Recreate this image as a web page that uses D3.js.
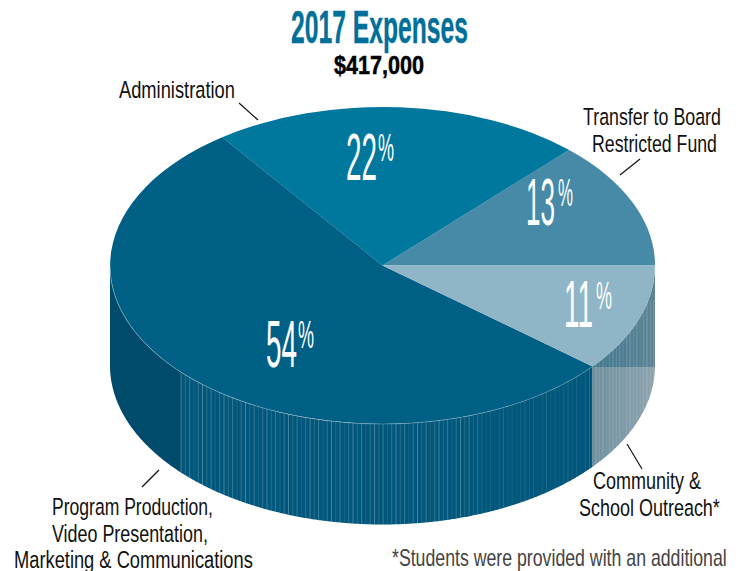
<!DOCTYPE html>
<html>
<head>
<meta charset="utf-8">
<script src="https://cdn.jsdelivr.net/npm/d3@7"></script>
<style>
  html, body { margin: 0; background: #fff; overflow: hidden; }
  text { font-family: "Liberation Sans Narrow", "Liberation Sans", sans-serif; }
</style>
</head>
<body>
<div id="chart"></div>
<script>
// data, in drawing order: counter clockwise from 3 o'clock
var categories = ["Transfer to Board Restricted Fund", "Administration", "Program Production", "Community & School Outreach"];
var percents = [13, 22, 54, 11];
var sliceColors = ["#468aa8", "#00779c", "#005f85", "#8fb5c6"];

var svgWidth = 739;
var svgHeight = 571;
var cx = 382.5, cy = 265.5, rx = 272.5, ry = 158.5;
var depth = 100;

var svg = d3.select("#chart").append("svg")
  .attr("width", svgWidth)
  .attr("height", svgHeight);

// helper: squeeze text to the x span it has in the picture
function fitText(x0, x1, baseline, str, size, opts) {
  opts = opts || {};
  var t = svg.append("text")
    .attr("font-size", size)
    .attr("font-weight", opts.weight || "normal")
    .attr("fill", opts.fill || "#111")
    .text(str);
  if (opts.stroke) {
    t.attr("stroke", opts.fill || "#111").attr("stroke-width", opts.stroke);
  }
  var k = (x1 - x0) / t.node().getComputedTextLength();
  t.attr("transform", "translate(" + x0 + "," + baseline + ") scale(" + k + ",1)");
  return t;
}

// ---- side wall ----
var defs = svg.append("defs");
var wallArea = d3.area()
  .x(function(a) { return cx + rx * Math.cos(a); })
  .y0(function(a) { return cy + ry * Math.sin(a); })
  .y1(function(a) { return cy + depth + 159 * Math.sin(a); });

defs.append("clipPath").attr("id", "wallClip")
  .append("path")
  .attr("d", wallArea(d3.range(0, Math.PI + 0.005, 0.005)));

var lightGrad = defs.append("linearGradient").attr("id", "lightWall");
lightGrad.append("stop").attr("offset", "0%").attr("stop-color", "#6f909f");
lightGrad.append("stop").attr("offset", "100%").attr("stop-color", "#8ea5af");
var darkGrad = defs.append("linearGradient").attr("id", "darkWall");
darkGrad.append("stop").attr("offset", "0%").attr("stop-color", "#3f7890");
darkGrad.append("stop").attr("offset", "100%").attr("stop-color", "#5f8496");

var wall = svg.append("g").attr("clip-path", "url(#wallClip)");
var wallTop = 265, wallH = 280;
wall.append("rect").attr("x", cx - rx - 2).attr("y", wallTop).attr("width", 74).attr("height", wallH).attr("fill", "#004a6b");
wall.append("rect").attr("x", 181).attr("y", wallTop).attr("width", 412).attr("height", wallH).attr("fill", "#00577b");
wall.append("rect").attr("x", 592).attr("y", wallTop).attr("width", 65).attr("height", 102).attr("fill", "url(#darkWall)");
wall.append("rect").attr("x", 592).attr("y", 367).attr("width", 65).attr("height", 170).attr("fill", "url(#lightWall)");

// fine vertical streaks on the wall
var streakOpacity = [0.45, 0.25, 0.38, 0.16, 0.33];
var streakX = d3.range(181, 590, 4.3);
wall.selectAll("line.streak").data(streakX).enter().append("line")
  .attr("class", "streak")
  .attr("x1", function(d) { return d; })
  .attr("x2", function(d) { return d; })
  .attr("y1", 300)
  .attr("y2", 530)
  .attr("stroke", "#b9d2dc")
  .attr("stroke-width", 0.8)
  .attr("stroke-opacity", function(d, i) {
    return streakOpacity[i % 5] * (d > 480 ? 0.45 : 1);
  });

var lightStreakX = d3.range(596, 654, 3.4);
wall.selectAll("line.lstreak").data(lightStreakX).enter().append("line")
  .attr("class", "lstreak")
  .attr("x1", function(d) { return d; })
  .attr("x2", function(d) { return d; })
  .attr("y1", 300)
  .attr("y2", 530)
  .attr("stroke", "#c3d3da")
  .attr("stroke-width", 0.9)
  .attr("stroke-opacity", function(d, i) { return streakOpacity[i % 5] * 0.8; });

// ---- top of the pie ----
var pie = d3.pie().sort(null)
  .startAngle(Math.PI / 2)
  .endAngle(Math.PI / 2 - 2 * Math.PI);
var arc = d3.arc().innerRadius(0).outerRadius(1);

svg.append("g")
  .attr("transform", "translate(" + cx + "," + cy + ") scale(" + rx + "," + ry + ")")
  .selectAll("path")
  .data(pie(percents))
  .enter().append("path")
  .attr("d", arc)
  .attr("fill", function(d, i) { return sliceColors[i]; });

// pale rim along the front edge
var rimLine = d3.line()
  .x(function(a) { return cx + rx * Math.cos(a); })
  .y(function(a) { return cy + ry * Math.sin(a); });
svg.append("path")
  .attr("d", rimLine(d3.range(0.69, Math.PI, 0.005)))
  .attr("fill", "none")
  .attr("stroke", "#9fc3d2")
  .attr("stroke-width", 0.7)
  .attr("stroke-opacity", 0.5);

// ---- percent labels ----
var pctLayout = [
  { x0: 526, x1: 555, base: 225, px0: 558, px1: 573, pbase: 206 },
  { x0: 346, x1: 377, base: 180, px0: 378, px1: 394, pbase: 161 },
  { x0: 266, x1: 297, base: 367, px0: 298, px1: 314, pbase: 348 },
  { x0: 564, x1: 593, base: 327, px0: 596, px1: 612, pbase: 309 }
];
percents.forEach(function(p, i) {
  var l = pctLayout[i];
  fitText(l.x0, l.x1, l.base, String(p), 66, { fill: "#fff" });
  fitText(l.px0, l.px1, l.pbase, "%", 38, { fill: "#fff" });
});

// ---- titles and labels ----
fitText(291, 468, 43, "2017 Expenses", 47, { fill: "#00709a", weight: "bold", stroke: 0.4 });
fitText(334, 424, 74, "$417,000", 26, { fill: "#000", weight: "bold", stroke: 0.5 });

var labelSize = 23.5;
fitText(119, 235, 98, "Administration", labelSize);
fitText(583, 721, 125, "Transfer to Board", labelSize);
fitText(592, 717, 152, "Restricted Fund", labelSize);
fitText(593, 701, 489, "Community &", labelSize);
fitText(579, 720, 516, "School Outreach*", labelSize);
fitText(52, 213, 515, "Program Production,", labelSize);
fitText(52, 208, 542, "Video Presentation,", labelSize);
fitText(14, 253, 568, "Marketing & Communications", labelSize);
fitText(392, 727, 566, "*Students were provided with an additional", 23, { fill: "#444" });

// leader lines
var leaders = [
  [239, 103, 258, 120],
  [640, 159, 620, 175],
  [627, 444, 642, 469],
  [159, 470, 142, 487]
];
svg.selectAll("line.leader").data(leaders).enter().append("line")
  .attr("class", "leader")
  .attr("x1", function(d) { return d[0]; })
  .attr("y1", function(d) { return d[1]; })
  .attr("x2", function(d) { return d[2]; })
  .attr("y2", function(d) { return d[3]; })
  .attr("stroke", "#111")
  .attr("stroke-width", 1.2);
</script>
</body>
</html>
